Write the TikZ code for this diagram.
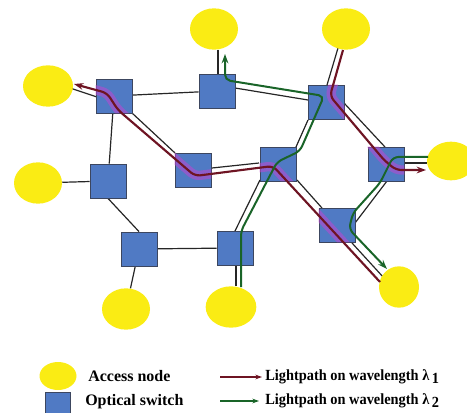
\documentclass[tikz,border=0pt]{standalone}
\usepackage{fontspec}
\setmainfont{Liberation Serif}
\usetikzlibrary{arrows.meta,calc,shapes.geometric}
\definecolor{nodeyellow}{RGB}{250,236,20}
\definecolor{switchblue}{RGB}{80,122,196}
\definecolor{switchedge}{RGB}{60,70,95}
\definecolor{lamone}{RGB}{110,20,35}
\definecolor{lamtwo}{RGB}{25,100,40}
\definecolor{tint}{RGB}{190,70,210}
\pgfdeclarelayer{bg}
\pgfsetlayers{bg,main}

\begin{document}
\begin{tikzpicture}[x=0.75pt,y=-0.75pt,
  access/.style={ellipse,fill=nodeyellow,inner sep=0,minimum width=36pt,minimum height=31pt},
  switch/.style={rectangle,draw=switchedge,fill=switchblue,line width=0.6pt,inner sep=0,minimum width=27pt,minimum height=25.5pt},
  link/.style={line width=0.9pt,black!85},
  lpone/.style={lamone,line width=1.6pt,rounded corners=4pt,-{Stealth[length=7pt,width=5pt]}},
  lptwo/.style={lamtwo,line width=1.5pt,rounded corners=4pt,-{Stealth[length=7pt,width=5pt]}},
  glow/.style={tint,line width=7pt,opacity=.55,rounded corners=4pt},
  keytext/.style={anchor=base west,inner sep=0,font=\fontsize{12}{14}\selectfont\bfseries},
  keypath/.style={anchor=base west,inner sep=0,font=\fontsize{11.6}{14}\selectfont\bfseries}]
  \useasboundingbox (0,0) rectangle (467,413);

  % access nodes
  \node[access] (a1) at (214,29) {};
  \node[access] (a2) at (346,29) {};
  \node[access,minimum width=37.5pt] (a3) at (48,86) {};
  \node[access] (a4) at (38,183) {};
  \node[access,minimum height=29pt] (a5) at (451,161) {};
  \node[access,minimum width=30pt] (a6) at (399,287) {};
  \node[access] (a7) at (126,309) {};
  \node[access,minimum width=38pt] (a8) at (231,307) {};

  % optical switches
  \node[switch] (s1) at (114,96) {};
  \node[switch] (s2) at (217,91) {};
  \node[switch] (s3) at (326,102) {};
  \node[switch] (s4) at (108,181) {};
  \node[switch] (s5) at (193,170) {};
  \node[switch] (s6) at (278,164) {};
  \node[switch] (s7) at (386,164) {};
  \node[switch] (s8) at (337,225) {};
  \node[switch] (s9) at (139,249) {};
  \node[switch] (s10) at (235,248) {};

  % fibre links
  \begin{pgfonlayer}{bg}
    \draw[link] (s1) -- (s2);
    \draw[link] (s1) -- (s4);
    \draw[link] (a4) -- (s4);
    \draw[link] (s4.south) -- (s9.north);
    \draw[link] (s9) -- (s10);
    \draw[link] (s9) -- (a7);
    \draw[link] ($(a3)+(22,2)$) -- ($(s1)+(-17,1)$);
    \draw[link] ($(s1)+(18,17)$) -- ($(s5)+(-18,-17)$);
    \draw[link] ($(s5)+(19,-2)$) -- ($(s6)+(-19,-1)$);
    \draw[link] ($(s2)+(1,-17)$) -- ($(a1)+(4,21)$);
    \draw[link] ($(s2)+(18,-3)$) -- ($(s3)+(-18,-2)$);
    \draw[link] ($(a2)+(-8,19)$) -- ($(s3)+(1,-17)$);
    \draw[link] ($(s3)+(18,1)$) -- ($(s7)+(-1,-17)$);
    \draw[link] ($(s6)+(18,-17)$) -- ($(s3)+(-18,18)$);
    \draw[link] ($(s10)+(0,-17)$) -- ($(s6)+(-18,16)$);
    \draw[link] ($(s10)+(1,17)$) -- ($(a8)+(5,-21)$);
    \draw[link] ($(s6)+(19,16)$) -- ($(s8)+(-15,-17)$);
    \draw[link] ($(s7)+(1,17)$) -- ($(s8)+(18,-2)$);
    \draw[link] ($(s7)+(18,-1)$) -- ($(a5)+(-24,2)$);
    \draw[link] ($(s8)+(15,18)$) -- ($(a6)+(-15,-9)$);
  \end{pgfonlayer}

  % lightpath waypoints
  \coordinate (r1a) at ($(a2)+(-3,21)$);
  \coordinate (r1b) at ($(s3)+(4,-6)$);
  \coordinate (r1c) at ($(s7)+(-2,-4)$);
  \coordinate (r1d) at ($(s7)+(10,6)$);
  \coordinate (r1e) at ($(a5)+(-25,9)$);
  \coordinate (r2a) at ($(a6)+(-19,-5)$);
  \coordinate (r2b) at ($(s6)+(-5,2)$);
  \coordinate (r2c) at ($(s5)+(2,6)$);
  \coordinate (r2d) at ($(s1)+(4,14)$);
  \coordinate (r2e) at ($(s1)+(-7,-3)$);
  \coordinate (r2f) at ($(a3)+(26,-2)$);
  \coordinate (g1a) at ($(a8)+(10,-20)$);
  \coordinate (g1b) at ($(s10)+(6,-17)$);
  \coordinate (g1c) at ($(s6)+(-1,-2)$);
  \coordinate (g1d) at ($(s6)+(22,-13)$);
  \coordinate (g1e) at ($(s3)+(-2,-6)$);
  \coordinate (g1f) at ($(s2)+(8,-11)$);
  \coordinate (g1g) at ($(a1)+(11,25)$);
  \coordinate (g2a) at ($(a5)+(-23,-4)$);
  \coordinate (g2b) at ($(s7)+(7,-7)$);
  \coordinate (g2c) at ($(s7)+(-6,19)$);
  \coordinate (g2d) at ($(s8)+(16,-12)$);
  \coordinate (g2e) at ($(s8)+(12,4)$);
  \coordinate (g2f) at ($(a6)+(-12,-18)$);

  % purple tint where lambda 1 crosses a switch
  \begin{scope}
    \clip (s1.north west) rectangle (s1.south east)
          (s3.north west) rectangle (s3.south east)
          (s5.north west) rectangle (s5.south east)
          (s6.north west) rectangle (s6.south east)
          (s7.north west) rectangle (s7.south east)
          (s8.north west) rectangle (s8.south east);
    \draw[glow] (r1a) -- (r1b) -- (r1c) -- (r1d) -- (r1e);
    \draw[glow] (r2a) -- (r2b) -- (r2c) -- (r2d) -- (r2e) -- (r2f);
  \end{scope}

  % lightpaths
  \draw[lpone] (r1a) -- (r1b) -- (r1c) -- (r1d) -- (r1e);
  \draw[lpone] (r2a) -- (r2b) -- (r2c) -- (r2d) -- (r2e) -- (r2f);
  \draw[lptwo] (g1a) -- (g1b) -- (g1c) -- (g1d) -- (g1e) -- (g1f) -- (g1g);
  \draw[lptwo] (g2a) -- (g2b) -- (g2c) -- (g2d) -- (g2e) -- (g2f);

  % legend
  \node[access,minimum width=27.75pt,minimum height=21pt] (keyaccess) at (58,376) {};
  \node[switch,minimum width=18.75pt,minimum height=22.5pt] (keyswitch) at (57.5,407) {};
  \node[keytext] (txtaccess) at (88,381) {Access node};
  \node[keytext] (txtswitch) at (85,405) {Optical switch};
  \coordinate (keyone) at (220,377);
  \coordinate (keyoneend) at (262,377);
  \coordinate (keytwo) at (220,401);
  \coordinate (keytwoend) at (259,401);
  \draw[lamone,line width=0.9pt,-{Stealth[length=5pt,width=3.5pt]}] (keyone) -- (keyoneend);
  \draw[lamtwo,line width=0.9pt,-{Stealth[length=5pt,width=3.5pt]}] (keytwo) -- (keytwoend);
  \node[keypath] (txtone) at (265,380) {\scalebox{0.93}[1]{Lightpath on wavelength λ\,\raisebox{-.5ex}{1}}};
  \node[keypath] (txttwo) at (265,404) {\scalebox{0.93}[1]{Lightpath on wavelength λ\,\raisebox{-.5ex}{2}}};
\end{tikzpicture}
\end{document}
